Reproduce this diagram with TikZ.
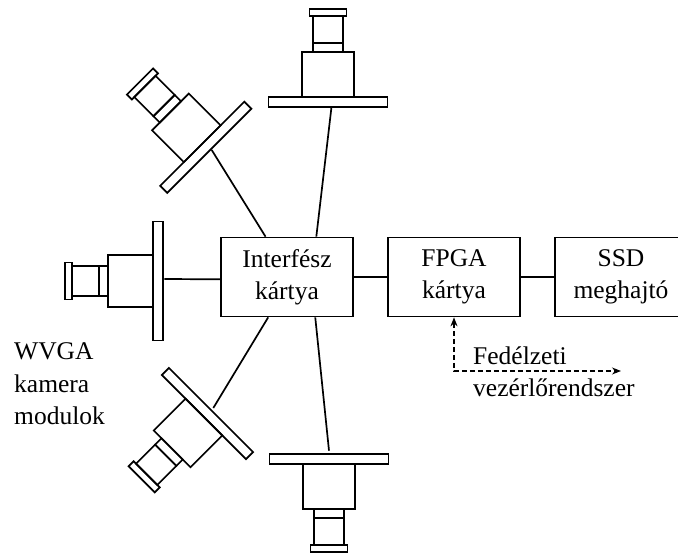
\documentclass[tikz,border=0pt]{standalone}
\usepackage{fontspec}
\setmainfont{Liberation Serif}
\usetikzlibrary{arrows.meta,calc}
\tikzset{
  camera/.pic={
    \coordinate (-port) at (0,0);
    \draw[line width=1.7pt,fill=white] (-59.5,0) rectangle (59.5,10);
    \draw[line width=1.7pt] (-26,10) rectangle (26,55);
    \draw[line width=1.7pt] (-15,55) rectangle (15,64);
    \draw[line width=1.7pt] (-15,64) rectangle (15,91);
    \draw[line width=1.7pt] (-18.5,91) rectangle (18.5,98);
  },
  board/.style={draw,line width=1.7pt,minimum width=132pt,minimum height=79pt,inner sep=0pt,
    align=center,font=\fontsize{25.5}{32}\selectfont},
  label/.style={inner sep=0pt,align=left,anchor=west,font=\fontsize{25.5}{32.5}\selectfont},
  conn/.style={line width=1.7pt}
}
\begin{document}
\begin{tikzpicture}[x=1pt,y=1pt]
  \useasboundingbox (0,0) rectangle (678,554);
  % Cameras
  \pic (camtop) at (328,447) {camera};
  \pic[rotate=45] (camtl) at (209.3,403.2) {camera};
  \pic[rotate=90] (camleft) at (163,273) {camera};
  \pic[rotate=135] (cambl) at (211,144) {camera};
  \pic[rotate=180] (cambot) at (329,99.7) {camera};
  % Boards
  \node[board] (iface) at (287,277) {Interfész\\kártya};
  \node[board] (fpga) at (454,277) {FPGA\\kártya};
  \node[board] (ssd) at (621,277) {SSD\\meghajtó};
  % Connectors
  \draw[conn] (iface.54) -- ($(camtop-port)+(3.5,0)$);
  \draw[conn] (iface.118) -- ($(camtl-port)+(2.4,0.8)$);
  \draw[conn] (iface.182) -- ($(camleft-port)+(1.3,2)$);
  \draw[conn] (iface.245) -- ($(cambl-port)+(2.3,2)$);
  \draw[conn] (iface.305) -- ($(cambot-port)+(0,3.6)$);
  \draw[conn] (iface) -- (fpga);
  \draw[conn] (fpga) -- (ssd);
  % Control link
  \coordinate (ctrl) at (621,183);
  \draw[dash pattern=on 5pt off 3pt,line width=1.1pt,{Stealth[length=9pt,width=7pt]}-{Stealth[length=9pt,width=7pt]}]
    (fpga.south) |- (ctrl);
  % Labels
  \node[label] (ctrltext) at (473,182) {Fedélzeti\\vezérlőrendszer};
  \node[label] (modtext) at (14,170) {WVGA\\kamera\\modulok};
\end{tikzpicture}
\end{document}
